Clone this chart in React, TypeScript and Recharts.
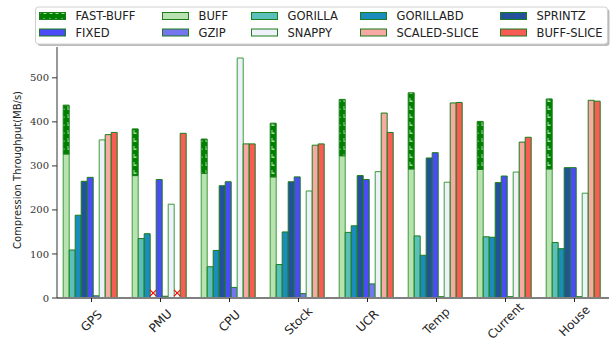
import React from "react";
import { ComposedChart, Bar, XAxis, YAxis, Rectangle } from "recharts";

const categories = ["GPS", "PMU", "CPU", "Stock", "UCR", "Temp", "Current", "House"];
const fastBuff = [438, 384, 361, 397, 451, 466, 401, 452];
const buff = [327, 278, 283, 275, 323, 293, 292, 293];
const gorilla = [109, 135, 71, 76, 149, 141, 139, 126];
const gorillabd = [188, 146, 108, 150, 164, 97, 138, 112];
const sprintz: (number | null)[] = [265, null, 255, 264, 278, 318, 262, 296];
const fixed = [274, 269, 264, 275, 269, 330, 277, 296];
const gzip = [5, 4, 24, 10, 32, 3, 3, 3];
const snappy = [359, 213, 545, 243, 287, 263, 286, 238];
const scaledSlice: (number | null)[] = [371, null, 350, 347, 420, 443, 354, 449];
const buffSlice = [376, 374, 350, 350, 376, 444, 365, 447];
const yTicks = [0, 100, 200, 300, 400, 500];

const C = {
  fast: "#008000",
  buff: "#b8e3b1",
  gorilla: "#5bbfbb",
  gorillabd: "#1c8cbf",
  sprintz: "#24519c",
  fixed: "#4b4bf7",
  gzip: "#7575f0",
  snappy: "#eef1fa",
  scaled: "#f7aaa3",
  buffSlice: "#f95b55",
};
const EDGE = "#1b7d1b";

const data = categories.map((name, i) => ({
  name,
  buff: buff[i],
  fastExtra: fastBuff[i] - buff[i],
  gorilla: gorilla[i],
  gorillabd: gorillabd[i],
  sprintz: sprintz[i] ?? 0,
  sprintzMissing: sprintz[i] == null,
  fixed: fixed[i],
  gzip: gzip[i],
  snappy: snappy[i],
  scaled: scaledSlice[i] ?? 0,
  scaledMissing: scaledSlice[i] == null,
  buffSlice: buffSlice[i],
}));

const missingShape = (flag: string) => (props: any) => {
  const { x, y, width, height, payload } = props;
  if (payload && payload[flag]) {
    const cx = x + width / 2;
    const cy = y - 5;
    const r = 3.2;
    return (
      <g>
        <line x1={cx - r} y1={cy - r} x2={cx + r} y2={cy + r} stroke="#ff0000" strokeWidth={1.2} />
        <line x1={cx - r} y1={cy + r} x2={cx + r} y2={cy - r} stroke="#ff0000" strokeWidth={1.2} />
      </g>
    );
  }
  return <Rectangle {...props} />;
};

const XTick = (props: any) => {
  const { x, payload } = props;
  return (
    <g transform={`translate(${x},321) rotate(-45)`}>
      <text
        textAnchor="middle"
        dominantBaseline="central"
        fontFamily="DejaVu Sans"
        fontSize={12}
        fill="#222"
      >
        {payload.value}
      </text>
    </g>
  );
};

const legendItems = [
  { label: "FAST-BUFF", fill: "url(#fastPatL)" },
  { label: "BUFF", fill: C.buff },
  { label: "GORILLA", fill: C.gorilla },
  { label: "GORILLABD", fill: C.gorillabd },
  { label: "SPRINTZ", fill: C.sprintz },
  { label: "FIXED", fill: C.fixed },
  { label: "GZIP", fill: C.gzip },
  { label: "SNAPPY", fill: C.snappy },
  { label: "SCALED-SLICE", fill: C.scaled },
  { label: "BUFF-SLICE", fill: C.buffSlice },
];
const colPatchX = [39.5, 162.5, 251.5, 360.5, 500.5];
const rowY = [16, 32.5];

const PatternDef = ({ id }: { id: string }) => (
  <pattern id={id} patternUnits="userSpaceOnUse" width={6} height={8}>
    <rect x={0} y={0} width={6} height={8} fill={C.fast} />
    <path d="M1.5,2 L2.5,2 L2.5,4.5 L4.5,4.5 L4.5,6 L1.5,6 Z" fill="#a6dc9f" />
  </pattern>
);

const Legend = () => (
  <svg
    width={613}
    height={50}
    style={{ position: "absolute", left: 0, top: 0, pointerEvents: "none" }}
  >
    <defs>
      <PatternDef id="fastPatL" />
    </defs>
    <rect x={37.5} y={9} width={572} height={37} rx={3} fill="#bbbbbb" />
    <rect x={35.5} y={7} width={572} height={37} rx={3} fill="#ffffff" stroke="#d0d0d0" strokeWidth={1} />
    {legendItems.map((it, i) => {
      const col = i % 5;
      const row = Math.floor(i / 5);
      const px = colPatchX[col];
      const cy = rowY[row];
      return (
        <g key={it.label}>
          <rect x={px} y={cy - 3.5} width={26} height={7} fill={it.fill} stroke={EDGE} strokeWidth={1} />
          <text
            x={px + 36}
            y={cy}
            dominantBaseline="central"
            fontFamily="DejaVu Sans"
            fontSize={11.5}
            fill="#222"
          >
            {it.label}
          </text>
        </g>
      );
    })}
  </svg>
);

export default function App() {
  const barCommon = { stroke: EDGE, strokeWidth: 1, isAnimationActive: false };
  return (
    <div style={{ position: "absolute", left: 0, top: 0, width: 613, height: 339, background: "#fff" }}>
      <ComposedChart
        width={613}
        height={339}
        data={data}
        margin={{ top: 47, right: 4, bottom: 0, left: 0 }}
        barCategoryGap={6.2}
        barGap={0}
      >
        <defs>
          <PatternDef id="fastPat" />
        </defs>
        <XAxis
          dataKey="name"
          height={41}
          tick={<XTick />}
          tickSize={4}
          tickLine={{ stroke: "#222" }}
          axisLine={{ stroke: "#808080", strokeWidth: 2 }}
          interval={0}
        />
        <XAxis
          xAxisId="top"
          dataKey="name"
          orientation="top"
          height={0}
          tick={false}
          tickLine={false}
          axisLine={{ stroke: "#333" }}
        />
        <YAxis
          domain={[0, 570]}
          ticks={yTicks}
          width={57}
          tickSize={5}
          tickMargin={3}
          tickLine={{ stroke: "#333" }}
          axisLine={{ stroke: "#333" }}
          tick={{ fontFamily: "DejaVu Serif", fontSize: 10, fill: "#333" }}
          allowDataOverflow
          label={{
            value: "Compression Throughput(MB/s)",
            angle: -90,
            position: "insideLeft",
            offset: 0,
            content: () => (
              <text
                x={17.5}
                y={170}
                transform="rotate(-90, 17.5, 170)"
                textAnchor="middle"
                dominantBaseline="central"
                fontFamily="DejaVu Sans"
                fontSize={10}
                fill="#222"
              >
                Compression Throughput(MB/s)
              </text>
            ),
          }}
        />
        <YAxis
          yAxisId="right"
          orientation="right"
          domain={[0, 570]}
          width={0}
          tick={false}
          tickLine={false}
          axisLine={{ stroke: "#888", strokeWidth: 2.5 }}
        />
        <Bar dataKey="buff" stackId="b" fill={C.buff} {...barCommon} stroke="#3a9a3a" />
        <Bar dataKey="fastExtra" stackId="b" fill="url(#fastPat)" {...barCommon} />
        <Bar dataKey="gorilla" fill={C.gorilla} {...barCommon} />
        <Bar dataKey="gorillabd" fill={C.gorillabd} {...barCommon} />
        <Bar dataKey="sprintz" fill={C.sprintz} {...barCommon} shape={missingShape("sprintzMissing")} />
        <Bar dataKey="fixed" fill={C.fixed} {...barCommon} />
        <Bar dataKey="gzip" fill={C.gzip} {...barCommon} />
        <Bar dataKey="snappy" fill={C.snappy} {...barCommon} stroke="#3a9a3a" />
        <Bar dataKey="scaled" fill={C.scaled} {...barCommon} shape={missingShape("scaledMissing")} />
        <Bar dataKey="buffSlice" fill={C.buffSlice} {...barCommon} />
      </ComposedChart>
      <Legend />
    </div>
  );
}
